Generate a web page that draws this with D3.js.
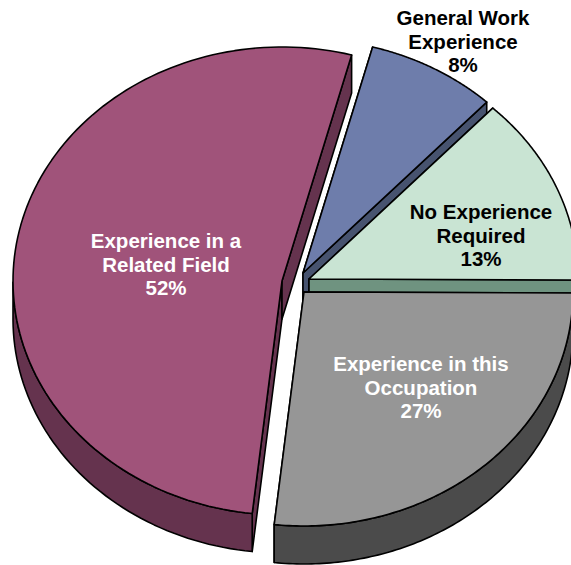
<!DOCTYPE html>
<html>
<head>
  <title>Experience Pie</title>
  <script src="https://d3js.org/d3.v7.min.js"></script>
  <style>
    body { margin: 0; background: #fff; }
    svg { display: block; font-family: "Liberation Sans", Arial, sans-serif; }
    .face, .wall { stroke: #000; stroke-width: 1.6px; stroke-linejoin: round; }
    text { font-weight: bold; font-size: 20.5px; text-anchor: middle; }
  </style>
</head>
<body>
  <svg width="571" height="565"></svg>

  <script>
    // clockwise from the top, starting at general work experience
    const categories = ['General Work Experience', 'No Experience Required', 'Experience in this Occupation', 'Experience in a Related Field'];
    const values = [7.8, 13.1, 26.7, 52.4];
    const labels = [
      ['General Work', 'Experience', '8%'],
      ['No Experience', 'Required', '13%'],
      ['Experience in this', 'Occupation', '27%'],
      ['Experience in a', 'Related Field', '52%']
    ];
    const topColors = ['#6e7dab', '#c9e4d3', '#969696', '#a0537a'];
    const wallColors = ['#47536f', '#6f9380', '#4b4b4b', '#65334e'];
    const textColors = ['#000', '#000', '#fff', '#fff'];

    // pie layout: exploded centres, ellipse radii, thickness
    const centers = [[303, 273], [309, 279], [304, 292], [282, 281]];
    const labelPos = [[463, 25], [481, 219], [421, 371], [166, 248]];
    const rx = 269, ry = 234, depth = 38;
    const lineHeight = 23.5;

    const svg = d3.select('svg');

    const slices = d3.pie()
      .sort(null)
      .startAngle(15 * Math.PI / 180)
      .endAngle(375 * Math.PI / 180)(values);

    const x = d3.scaleLinear().domain([-1, 1]).range([-rx, rx]);
    const y = d3.scaleLinear().domain([-1, 1]).range([ry, -ry]);

    const ptX = (i, a) => centers[i][0] + x(Math.sin(a));
    const ptY = (i, a) => centers[i][1] + y(Math.cos(a));
    const angles = s => d3.range(0, 121).map(k => s.startAngle + (s.endAngle - s.startAngle) * k / 120);

    const line = d3.line();

    // draw back slices first, gray last so it covers the green wall
    slices.forEach((s, i) => {
      const g = svg.append('g');
      const [cx, cy] = centers[i];
      const sx = ptX(i, s.startAngle), sy = ptY(i, s.startAngle);
      const ex = ptX(i, s.endAngle), ey = ptY(i, s.endAngle);

      // radial walls
      [[sx, sy], [ex, ey]].forEach(([px, py]) => {
        g.append('path')
          .attr('class', 'wall')
          .attr('fill', wallColors[i])
          .attr('d', line([[cx, cy], [px, py], [px, py + depth], [cx, cy + depth]]) + 'Z');
      });

      // outer wall, lower half only
      const lower = angles(s).filter(a => Math.cos(a) <= 0);
      if (lower.length) {
        const rimTop = lower.map(a => [ptX(i, a), ptY(i, a)]);
        const rimBottom = rimTop.map(p => [p[0], p[1] + depth]).reverse();
        g.append('path')
          .attr('class', 'wall')
          .attr('fill', wallColors[i])
          .attr('d', line(rimTop.concat(rimBottom)) + 'Z');
      }
    });

    // radial walls that face away would sit on top of neighbours, so repaint tops in order
    slices.forEach((s, i) => {
      const rim = angles(s).map(a => [ptX(i, a), ptY(i, a)]);
      svg.append('path')
        .attr('class', 'face')
        .attr('fill', topColors[i])
        .attr('d', line([centers[i]].concat(rim)) + 'Z');
    });

    labels.forEach((lines, i) => {
      const t = svg.append('text')
        .attr('fill', textColors[i])
        .attr('aria-label', categories[i]);
      lines.forEach((l, k) => {
        t.append('tspan')
          .attr('x', labelPos[i][0])
          .attr('y', labelPos[i][1] + k * lineHeight)
          .text(l);
      });
    });
  </script>
</body>
</html>
